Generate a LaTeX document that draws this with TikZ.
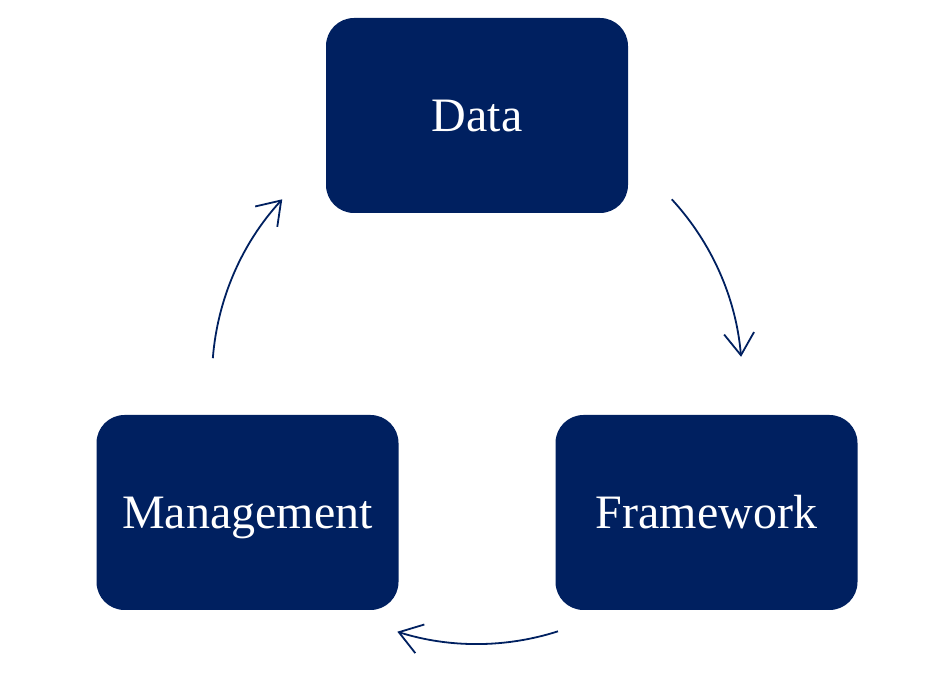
\documentclass[tikz,border=0pt]{standalone}
\usepackage{fontspec}
\setmainfont{Liberation Serif}
\usetikzlibrary{arrows.meta}
\definecolor{navy}{RGB}{0,32,96}
\begin{document}
\begin{tikzpicture}[x=1pt,y=1pt,
  box/.style={fill=navy, draw=none, rounded corners=28pt, minimum width=302pt, minimum height=195pt, text=white, font=\fontsize{48}{56}\selectfont, text height=33pt, text depth=0pt},
  cyc/.style={draw=navy, line width=1.8pt, -{Straight Barb[length=22pt,width=30pt,line width=1.8pt]}}]
\useasboundingbox (0,0) rectangle (932,680);
\node[box] (data) at (477,564.5) {Data};
\node[box] (mgmt) at (247.5,167.5) {Management};
\node[box] (frame) at (706.5,167.5) {Framework};
\coordinate (c) at (477,301);
\draw[cyc] ([shift={(42.7:265)}]c) arc[start angle=42.7, end angle=4.8, radius=265];
\draw[cyc] ([shift={(-72.2:265)}]c) arc[start angle=-72.2, end angle=-107.5, radius=265];
\draw[cyc] ([shift={(175.5:265)}]c) arc[start angle=175.5, end angle=137.3, radius=265];
\end{tikzpicture}
\end{document}
